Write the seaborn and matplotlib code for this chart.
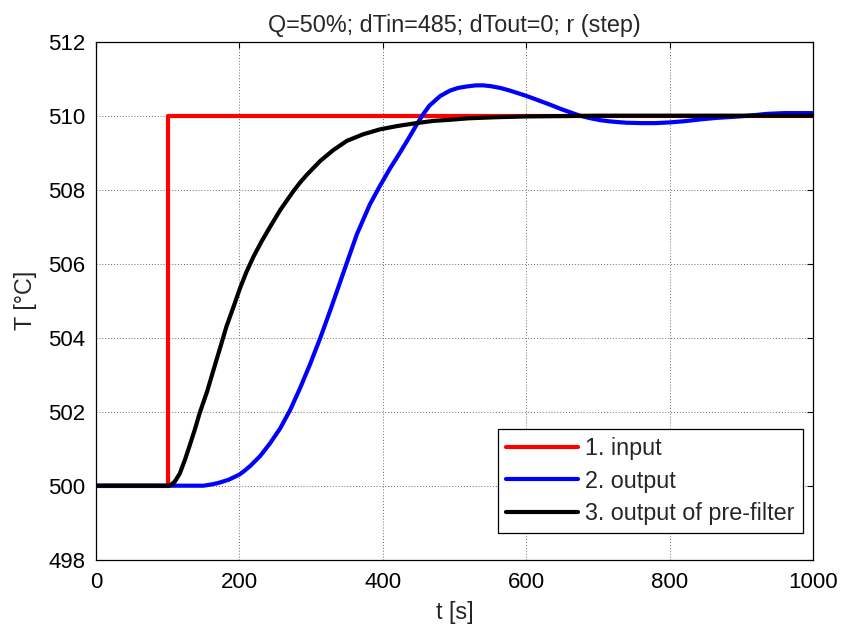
import matplotlib
matplotlib.use("Agg")
import matplotlib.pyplot as plt
import seaborn as sns
import pandas as pd

# ---- data ----
t_input = [0, 100, 100, 1000]
T_input = [500, 500, 510, 510]

t_output = [0, 100, 150, 160, 170, 185, 200, 207, 215, 229, 243, 257, 271, 285, 299,
            313, 327, 345, 364, 382, 396, 410, 424, 438, 447, 455, 465, 480, 494,
            505, 517, 530, 540, 550, 564, 577, 590, 601, 615, 633, 650, 675, 690,
            703, 715, 726, 740, 760, 780, 801, 820, 843, 865, 889, 910, 936, 960, 1000]
T_output = [500, 500, 500, 500.03, 500.07, 500.16, 500.3, 500.4, 500.53, 500.8, 501.15,
            501.55, 502.05, 502.65, 503.3, 504.0, 504.75, 505.75, 506.8, 507.6,
            508.1, 508.57, 509.0, 509.45, 509.75, 510.0, 510.27, 510.53, 510.68,
            510.75, 510.79, 510.82, 510.82, 510.8, 510.75, 510.68, 510.6, 510.53,
            510.43, 510.3, 510.17, 510.0, 509.93, 509.88, 509.85, 509.83, 509.81,
            509.8, 509.8, 509.82, 509.85, 509.9, 509.94, 509.97, 510.0, 510.05,
            510.07, 510.07]

t_prefilter = [0, 100, 103, 110, 117, 124, 131, 138, 145, 155, 164, 173, 182, 192,
               201, 210, 220, 231, 243, 257, 275, 285, 294, 313, 331, 350, 373, 396,
               420, 447, 471, 494, 520, 560, 600, 700, 1000]
T_prefilter = [500, 500, 500, 500.11, 500.33, 500.69, 501.1, 501.52, 501.98, 502.54,
               503.13, 503.71, 504.3, 504.84, 505.34, 505.78, 506.2, 506.6, 507.0,
               507.45, 507.95, 508.2, 508.4, 508.78, 509.07, 509.32, 509.5, 509.63,
               509.72, 509.8, 509.86, 509.89, 509.93, 509.96, 509.98, 510.0, 510.0]

series_names = ["1. input", "2. output", "3. output of pre-filter"]
series_colors = ["#ff0000", "#0000ff", "#000000"]
x_ticks = [0, 200, 400, 600, 800, 1000]
y_ticks = [498, 500, 502, 504, 506, 508, 510, 512]
title_text = "Q=50%; dTin=485; dTout=0; r (step)"
xlabel_text = "t [s]"
ylabel_text = "T [°C]"

df = pd.concat([
    pd.DataFrame({"t": t_input, "T": T_input, "series": series_names[0]}),
    pd.DataFrame({"t": t_output, "T": T_output, "series": series_names[1]}),
    pd.DataFrame({"t": t_prefilter, "T": T_prefilter, "series": series_names[2]}),
], ignore_index=True)

sns.set_style("white")
plt.rcParams["font.family"] = ["Liberation Sans", "DejaVu Sans"]
FS_TICK = 16
FS_TEXT = 16.8

W, H = 841, 625
fig = plt.figure(figsize=(W / 100, H / 100), dpi=100)
left, right, top, bottom = 95.9, 813.0, 41.7, 559.7
ax = fig.add_axes([left / W, (H - bottom) / H, (right - left) / W, (bottom - top) / H])

sns.lineplot(data=df, x="t", y="T", hue="series", hue_order=series_names,
             palette=dict(zip(series_names, series_colors)),
             estimator=None, sort=False, linewidth=3, ax=ax, zorder=3)

ax.set_xlim(0, 1000)
ax.set_ylim(498, 512)
ax.set_xticks(x_ticks)
ax.set_yticks(y_ticks)
ax.grid(True, linestyle=(0, (1, 2)), color="#6e6e6e", linewidth=0.7)
ax.set_axisbelow(True)
for s in ax.spines.values():
    s.set_visible(True)
    s.set_color("black")
    s.set_linewidth(0.9)
ax.tick_params(direction="in", length=4, width=0.8, top=True, right=True,
               labelsize=FS_TICK, colors="black")
ax.tick_params(axis="x", pad=8.5)
ax.tick_params(axis="y", pad=7.5)

ax.set_title(title_text, fontsize=FS_TEXT, pad=7)
ax.set_xlabel(xlabel_text, fontsize=FS_TEXT, labelpad=6)
ax.set_ylabel(ylabel_text, fontsize=FS_TEXT, labelpad=8)

handles, labels = ax.get_legend_handles_labels()
leg = ax.legend(handles, labels, loc="lower right", bbox_to_anchor=(0.986, 0.0515),
                borderaxespad=0, fontsize=FS_TEXT, frameon=True, fancybox=False,
                edgecolor="black", framealpha=1, handlelength=3.1,
                handletextpad=0.3, borderpad=0.35, labelspacing=0.4)
leg.get_frame().set_linewidth(0.9)
for lh in leg.get_lines():
    lh.set_linewidth(3)

fig.savefig("out.png", dpi=100)
